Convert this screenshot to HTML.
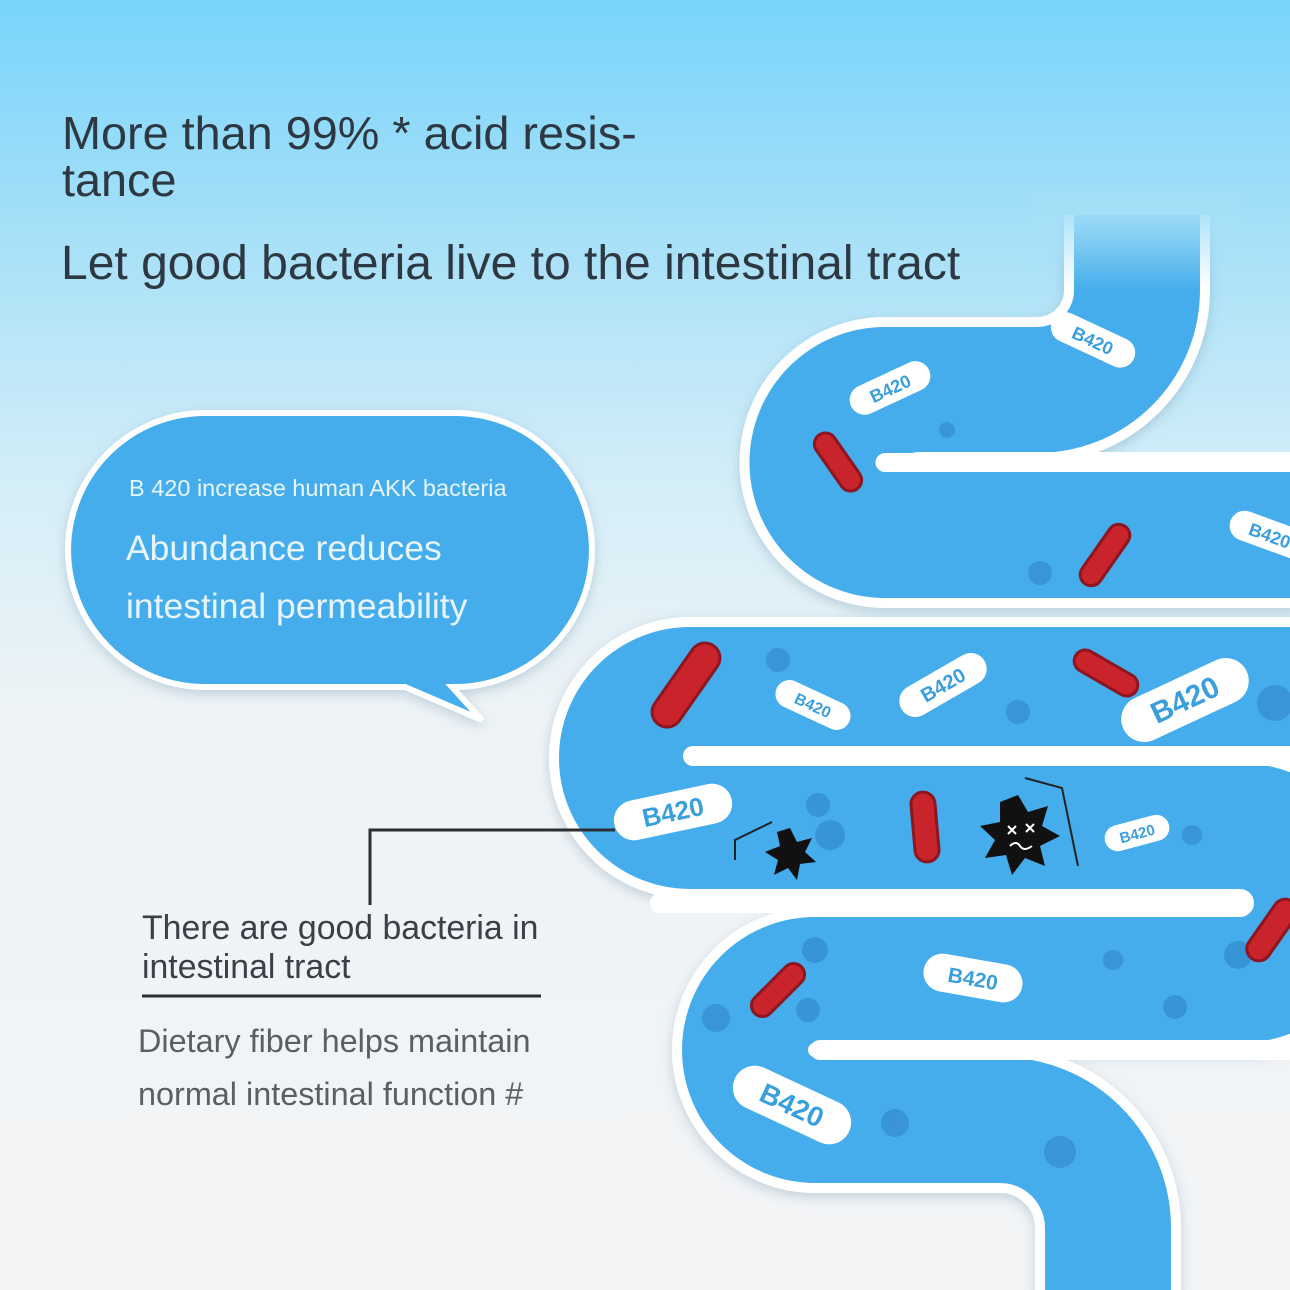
<!DOCTYPE html>
<html><head><meta charset="utf-8"><style>
html,body{margin:0;padding:0}
body{width:1290px;height:1290px;position:relative;overflow:hidden;font-family:"Liberation Sans",sans-serif;
background:linear-gradient(180deg,#79d4fb 0%,#a6e0f8 18%,#d5eef8 38%,#eef3f6 55%,#f3f4f6 100%);}
.t{position:absolute;white-space:nowrap}
</style></head><body>
<svg width="1290" height="1290" style="position:absolute;left:0;top:0">
<defs>
<filter id="sh" x="-20%" y="-20%" width="140%" height="140%"><feDropShadow dx="0" dy="4" stdDeviation="6" flood-color="#6a8fa8" flood-opacity="0.35"/></filter>
<linearGradient id="fade" x1="0" y1="0" x2="0" y2="1">
<stop offset="0" stop-color="#a2def8" stop-opacity="1"/><stop offset="0.3" stop-color="#a6e0f8" stop-opacity="0.85"/><stop offset="1" stop-color="#aee2f8" stop-opacity="0"/>
</linearGradient>
</defs>
<g fill="none" stroke-linejoin="round">
<g stroke="#ffffff" stroke-width="146" filter="url(#sh)">
<path d="M1137 215 L1137 290 A100 100 0 0 1 1037 390 L885 390 A72 72 0 0 0 885 535 L1300 535"/>
<path d="M1300 690 L690 690 A68 68 0 0 0 690 826 L1240 826 A77 77 0 0 1 1240 980 L815 980 A70 70 0 0 0 815 1120 L1000 1120 A108 108 0 0 1 1108 1228 L1108 1300"/>
</g>
<g stroke="#45adeb" stroke-width="126">
<path d="M1137 215 L1137 290 A100 100 0 0 1 1037 390 L885 390 A72 72 0 0 0 885 535 L1300 535"/>
<path d="M1300 690 L690 690 A68 68 0 0 0 690 826 L1240 826 A77 77 0 0 1 1240 980 L815 980 A70 70 0 0 0 815 1120 L1000 1120 A108 108 0 0 1 1108 1228 L1108 1300"/>
</g>
<g stroke="#ffffff" stroke-width="20" stroke-linecap="round">
<line x1="917" y1="462" x2="1300" y2="462"/>
<line x1="693" y1="756" x2="1300" y2="756"/>
<line x1="660" y1="903" x2="1238" y2="903"/>
<line x1="820" y1="1050" x2="1300" y2="1050"/>
</g>
</g>
<rect x="1030" y="190" width="210" height="100" fill="url(#fade)"/>
<!-- dots -->
<g fill="#2f82c4" opacity="0.55">
<circle cx="947" cy="430" r="8"/><circle cx="1040" cy="573" r="12"/><circle cx="778" cy="660" r="12"/>
<circle cx="1018" cy="712" r="12"/><circle cx="1275" cy="703" r="18"/><circle cx="818" cy="805" r="12"/>
<circle cx="830" cy="835" r="15"/><circle cx="1192" cy="835" r="10"/><circle cx="815" cy="950" r="13"/>
<circle cx="1113" cy="960" r="10"/><circle cx="1175" cy="1007" r="12"/><circle cx="716" cy="1018" r="14"/>
<circle cx="808" cy="1010" r="12"/><circle cx="895" cy="1123" r="14"/><circle cx="1060" cy="1152" r="16"/>
<circle cx="1238" cy="955" r="14"/>
</g>
<!-- red bacteria -->
<g fill="#c9242b" stroke="#8d1620" stroke-width="3">
<rect x="-33" y="-11" width="66" height="22" rx="11" transform="translate(838,462) rotate(55)"/>
<rect x="-35" y="-11" width="70" height="22" rx="11" transform="translate(1105,555) rotate(-55)"/>
<rect x="-48" y="-15" width="96" height="30" rx="15" transform="translate(686,685) rotate(-55)"/>
<rect x="-35" y="-11" width="70" height="22" rx="11" transform="translate(1106,673) rotate(30)"/>
<rect x="-35" y="-12" width="70" height="24" rx="12" transform="translate(925,827) rotate(85)"/>
<rect x="-33" y="-11" width="66" height="22" rx="11" transform="translate(778,990) rotate(-45)"/>
<rect x="-35" y="-12" width="70" height="24" rx="12" transform="translate(1272,930) rotate(-55)"/>
</g>
<!-- B420 pills -->
<g font-family="Liberation Sans,sans-serif" font-weight="bold" fill="#3a9fdc" text-anchor="middle">
<g transform="translate(1093,340) rotate(25)"><rect x="-45" y="-15" width="90" height="30" rx="15" fill="#fff"/><text y="7" font-size="18">B420</text></g>
<g transform="translate(890,388) rotate(-25)"><rect x="-43" y="-15" width="86" height="30" rx="15" fill="#fff"/><text y="7" font-size="18">B420</text></g>
<g transform="translate(1270,535) rotate(20)"><rect x="-42" y="-15" width="84" height="30" rx="15" fill="#fff"/><text y="7" font-size="18">B420</text></g>
<g transform="translate(813,705) rotate(25)"><rect x="-40" y="-14" width="80" height="28" rx="14" fill="#fff"/><text y="6" font-size="16">B420</text></g>
<g transform="translate(943,685) rotate(-30)"><rect x="-48" y="-16" width="96" height="32" rx="16" fill="#fff"/><text y="7" font-size="20">B420</text></g>
<g transform="translate(1185,700) rotate(-25)"><rect x="-68" y="-23" width="136" height="46" rx="23" fill="#fff"/><text y="10" font-size="30">B420</text></g>
<g transform="translate(673,812) rotate(-12)"><rect x="-60" y="-20" width="120" height="40" rx="20" fill="#fff"/><text y="9" font-size="26">B420</text></g>
<g transform="translate(1137,833) rotate(-15)"><rect x="-33" y="-13" width="66" height="26" rx="13" fill="#fff"/><text y="6" font-size="15">B420</text></g>
<g transform="translate(973,978) rotate(10)"><rect x="-50" y="-19" width="100" height="38" rx="19" fill="#fff"/><text y="8" font-size="21">B420</text></g>
<g transform="translate(792,1105) rotate(25)"><rect x="-63" y="-22" width="126" height="44" rx="22" fill="#fff"/><text y="10" font-size="28">B420</text></g>
</g>
<!-- splats -->
<polygon fill="#111" points="790,828 797,842 812,838 805,852 816,862 800,864 797,880 788,868 774,875 778,860 765,852 780,846 777,832"/>
<polygon fill="#111" points="1018,795 1028,812 1048,806 1042,826 1060,836 1040,846 1045,866 1025,858 1012,875 1006,855 985,858 995,840 980,826 1000,822 1000,802"/>
<g stroke="#fff" stroke-width="2"><path d="M1008 826l8 8m0-8l-8 8M1026 824l8 8m0-8l-8 8"/><path d="M1010 846q6-6 10 0t12 0" fill="none"/></g>
<g stroke="#222" stroke-width="2" fill="none"><path d="M735 860 L735 840 L772 822"/><path d="M1025 778 L1062 788 L1078 866"/></g>
<!-- bubble -->
<path d="M205 413 L455 413 A137 137 0 0 1 455 687 L452 687 L482 720 L405 687 L205 687 A137 137 0 0 1 205 413 Z" fill="#45adeb" stroke="#fff" stroke-width="6" filter="url(#sh)"/>
<!-- callout -->
<path d="M615 830 L370 830 L370 905" stroke="#2a2f35" stroke-width="3" fill="none"/>
<line x1="142" y1="996" x2="541" y2="996" stroke="#2a2f35" stroke-width="3"/>
</svg>
<div class="t" style="left:62px;top:110px;font-size:46.8px;color:#2e3842;line-height:47px">More than 99% * acid resis-<br>tance</div>
<div class="t" style="left:61px;top:236px;font-size:48px;color:#2e3842">Let good bacteria live to the intestinal tract</div>
<div class="t" style="left:129px;top:475px;font-size:23.5px;color:#e8f5fd">B 420 increase human AKK bacteria</div>
<div class="t" style="left:126px;top:519px;font-size:35.5px;color:#e8f5fd;line-height:58px">Abundance reduces<br>intestinal permeability</div>
<div class="t" style="left:142px;top:909px;font-size:33.8px;color:#3a4048;line-height:39px">There are good bacteria in<br>intestinal tract</div>
<div class="t" style="left:138px;top:1015px;font-size:32.4px;color:#5a5f66;line-height:53px">Dietary fiber helps maintain<br>normal intestinal function #</div>
</body></html>
